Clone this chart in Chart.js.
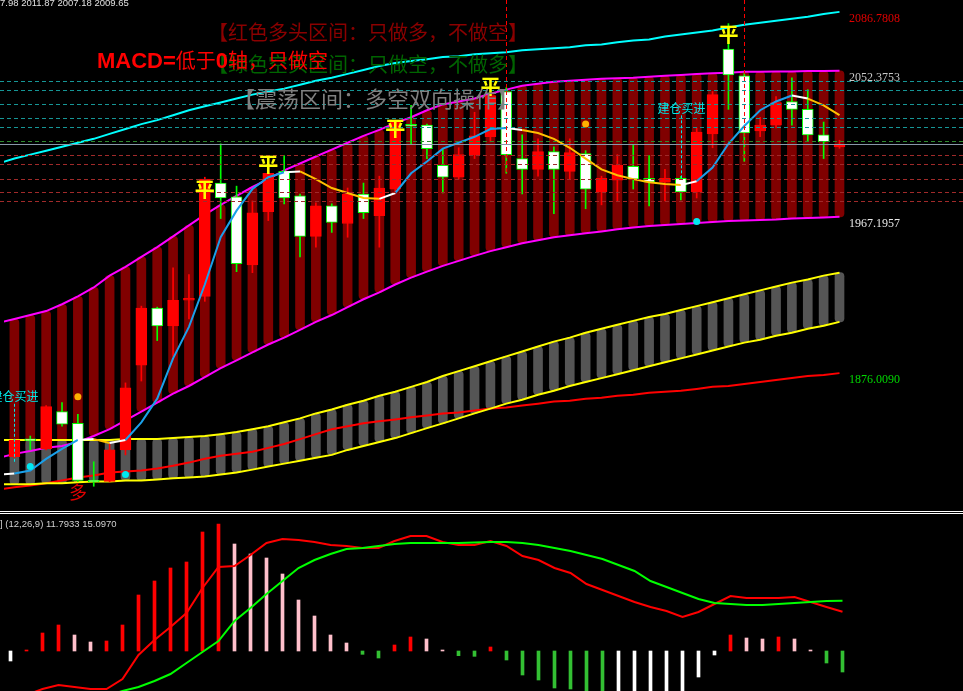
<!DOCTYPE html>
<html>
<head>
<meta charset="utf-8">
<script src="https://cdn.jsdelivr.net/npm/chart.js@4.4.1/dist/chart.umd.min.js"></script>
<style>
html, body { margin: 0; padding: 0; background: #000; overflow: hidden; }
#wrap { position: relative; width: 963px; height: 691px; background: #000; }
#priceChart { position: absolute; left: 0; top: 0; }
#macdChart { position: absolute; left: 0; top: 515px; }
.sep { position: absolute; left: 0; width: 963px; height: 1px; background: #fff; }
</style>
</head>
<body>
<div id="wrap">
  <canvas id="priceChart" width="963" height="510"></canvas>
  <div class="sep" style="top:511px"></div>
  <div class="sep" style="top:513px"></div>
  <canvas id="macdChart" width="963" height="176"></canvas>
</div>
<script>
// bar numbers, first one (-1) is only partly on screen
const bars = Array.from({ length: 54 }, (_, k) => k - 1);

// candles
const open = [null, 1827.2, 1837.6, 1831.8, 1853.6, 1846.7, 1813.6, 1812.8, 1831.2, 1880.6, 1913.9, 1903.6, 1918.5, 1920.8, 1986.9, 1978.8, 1939.2, 1970.2, 1993.7, 1979.4, 1955.8, 1973.6, 1963.3, 1980.5, 1967.9, 1983.4, 2021.2, 2020.7, 1997.2, 1990.3, 2003.5, 2013.9, 2040.3, 2001.2, 1994.9, 2005.2, 1993.7, 2004.1, 1981.7, 1988.6, 1996.6, 1989.7, 1987.4, 1989.7, 1981.7, 2015.6, 2065.0, 2049.5, 2017.3, 2020.7, 2034.5, 2029.9, 2015.0, 2007.98];
const high = [null, 1837.2, 1839.3, 1857.1, 1858.8, 1851.9, 1824.3, 1834.7, 1870.3, 1915.1, 1914.5, 1937.5, 1933.5, 1990.3, 2009.8, 1985.1, 1976.5, 1996.6, 2002.9, 1980.5, 1975.4, 1974.8, 1984.0, 1986.9, 1990.9, 2023.6, 2032.2, 2021.3, 2007.0, 2007.5, 2028.2, 2039.7, 2042.6, 2015.0, 2012.7, 2008.1, 2012.7, 2005.8, 1990.9, 2003.5, 2009.3, 2002.9, 1994.9, 1990.9, 2019.0, 2040.3, 2079.9, 2051.2, 2025.3, 2037.4, 2048.3, 2041.4, 2022.5, 2011.87];
const low = [null, 1826.6, 1831.2, 1831.2, 1845.0, 1812.8, 1810.0, 1812.5, 1828.3, 1871.4, 1895.0, 1885.8, 1907.6, 1917.9, 1966.2, 1935.2, 1934.6, 1965.0, 1974.8, 1943.8, 1949.5, 1958.1, 1955.3, 1966.2, 1949.5, 1980.5, 2009.8, 2001.2, 1981.1, 1989.2, 2001.2, 2011.0, 1992.6, 1980.5, 1990.9, 1969.1, 1989.2, 1971.9, 1974.2, 1976.5, 1983.4, 1973.6, 1976.5, 1977.1, 1978.2, 2007.5, 2029.9, 1999.5, 2013.9, 2019.0, 2020.7, 2011.6, 2001.2, 2007.18];
const close = [null, 1837.0, 1836.5, 1856.5, 1846.2, 1813.4, 1812.5, 1831.2, 1867.4, 1913.9, 1903.6, 1918.5, 1919.7, 1989.2, 1978.2, 1939.8, 1969.6, 1992.6, 1978.2, 1955.8, 1973.6, 1963.9, 1980.5, 1969.6, 1984.0, 2022.5, 2020.1, 2007.0, 1990.3, 2003.5, 2014.4, 2038.0, 2003.5, 1994.9, 2005.2, 1994.9, 2004.7, 1983.4, 1989.7, 1997.2, 1989.2, 1987.4, 1989.7, 1981.7, 2016.7, 2038.5, 2050.0, 2016.1, 2020.7, 2033.9, 2029.9, 2015.0, 2011.0, 2009.65];

// indicator lines on the price chart
const cyanLine = [1998.3, 2001.2, 2003.5, 2005.8, 2008.1, 2010.4, 2012.7, 2015.6, 2018.4, 2021.3, 2023.6, 2026.5, 2029.4, 2031.7, 2033.9, 2036.2, 2038.5, 2040.3, 2042.0, 2044.3, 2046.6, 2048.3, 2050.6, 2052.9, 2055.2, 2056.9, 2058.1, 2059.2, 2060.4, 2060.9, 2062.1, 2062.7, 2063.2, 2064.4, 2065.0, 2065.5, 2066.1, 2067.3, 2067.8, 2069.0, 2070.1, 2070.7, 2072.4, 2073.6, 2074.7, 2075.9, 2077.6, 2079.3, 2080.5, 2081.6, 2082.8, 2083.9, 2085.6, 2086.7808];
const bandUpper = [1905.3, 1907.6, 1909.9, 1912.2, 1916.2, 1920.8, 1926.0, 1932.9, 1938.0, 1943.8, 1949.5, 1955.8, 1962.2, 1968.5, 1974.2, 1979.4, 1984.6, 1989.2, 1994.3, 1998.3, 2002.4, 2006.4, 2010.4, 2014.4, 2017.9, 2021.9, 2025.3, 2029.4, 2032.8, 2034.5, 2036.2, 2039.1, 2041.4, 2043.7, 2044.9, 2046.0, 2046.6, 2047.2, 2047.7, 2048.0, 2048.3, 2048.9, 2049.5, 2050.0, 2050.6, 2050.9, 2051.2, 2051.8, 2051.8, 2052.0, 2052.0, 2052.3, 2052.3, 2052.3753];
const bandLower = [1826.6, 1828.9, 1830.6, 1832.4, 1833.5, 1835.8, 1839.3, 1843.3, 1848.4, 1853.6, 1858.8, 1864.0, 1868.5, 1873.7, 1878.9, 1883.5, 1888.1, 1892.7, 1896.7, 1901.3, 1905.9, 1909.9, 1914.5, 1919.1, 1923.1, 1927.7, 1931.7, 1935.2, 1938.6, 1941.5, 1944.4, 1947.2, 1949.5, 1951.8, 1953.5, 1955.3, 1956.4, 1957.6, 1958.7, 1959.9, 1961.0, 1961.9, 1962.4, 1963.0, 1963.6, 1964.2, 1964.7, 1965.0, 1965.3, 1965.6, 1966.2, 1966.5, 1966.8, 1967.1957];
const chanUpper = [1837.0, 1837.0, 1837.0, 1837.0, 1837.0, 1837.0, 1837.0, 1837.0, 1837.5, 1837.5, 1837.5, 1838.1, 1838.7, 1839.3, 1840.4, 1841.6, 1843.3, 1845.0, 1847.3, 1849.6, 1852.5, 1854.8, 1857.6, 1859.9, 1862.8, 1865.1, 1868.0, 1870.8, 1874.3, 1877.2, 1880.0, 1882.9, 1885.8, 1888.6, 1891.5, 1894.4, 1896.7, 1899.6, 1901.9, 1904.2, 1906.5, 1908.7, 1910.5, 1912.8, 1915.1, 1917.4, 1919.7, 1922.0, 1924.3, 1926.6, 1928.8, 1930.6, 1932.9, 1934.6];
const chanLower = [1811.1, 1811.1, 1811.1, 1811.7, 1811.7, 1812.3, 1812.8, 1812.8, 1813.4, 1813.4, 1814.0, 1814.6, 1815.1, 1815.7, 1816.9, 1818.0, 1819.7, 1821.5, 1823.2, 1824.9, 1826.6, 1828.3, 1831.2, 1833.5, 1835.8, 1838.1, 1841.0, 1843.9, 1846.7, 1849.6, 1852.5, 1855.3, 1858.2, 1860.5, 1863.4, 1865.7, 1868.5, 1870.8, 1873.1, 1875.4, 1877.7, 1880.0, 1882.3, 1884.6, 1886.9, 1889.2, 1891.5, 1893.8, 1895.5, 1897.8, 1899.6, 1901.9, 1903.6, 1905.9];
const slowLine = [1808.2, 1809.4, 1810.5, 1811.7, 1813.4, 1815.1, 1816.3, 1818.0, 1818.6, 1819.2, 1820.3, 1822.0, 1823.8, 1826.0, 1827.8, 1828.9, 1830.1, 1832.4, 1834.7, 1837.5, 1840.4, 1843.3, 1845.0, 1846.7, 1847.9, 1849.0, 1850.2, 1851.3, 1852.5, 1853.0, 1854.2, 1855.3, 1855.9, 1857.1, 1858.2, 1859.4, 1859.9, 1861.1, 1861.7, 1862.8, 1863.4, 1864.5, 1865.1, 1865.7, 1866.8, 1868.0, 1868.5, 1869.7, 1870.8, 1872.0, 1873.1, 1874.3, 1874.9, 1876.009];
const maLine = [1816.9, 1817.4, 1819.2, 1826.0, 1831.8, 1837.0, 1837.5, 1835.2, 1837.0, 1847.3, 1861.1, 1884.6, 1903.0, 1927.7, 1955.3, 1970.8, 1983.4, 1990.3, 1993.2, 1993.7, 1989.2, 1984.0, 1981.1, 1978.2, 1977.7, 1981.1, 1992.6, 1999.5, 2007.0, 2010.4, 2013.9, 2018.4, 2019.0, 2017.9, 2016.1, 2012.7, 2007.5, 2001.2, 1994.9, 1991.5, 1989.2, 1987.4, 1986.3, 1985.7, 1988.0, 1996.0, 2009.8, 2020.2, 2029.4, 2034.5, 2038.0, 2036.2, 2032.2, 2026.5];
// 1 up, 0 flat, -1 down (segment ending at that bar)
const maTrend = [0, 0, 1, 1, 1, 1, 0, -1, 0, 1, 1, 1, 1, 1, 1, 1, 1, 1, 1, 0, -1, -1, -1, -1, -1, 0, 1, 1, 1, 1, 1, 1, 1, 0, -1, -1, -1, -1, -1, -1, -1, -1, -1, -1, 0, 1, 1, 1, 1, 1, 1, 0, -1, -1];

// horizontal levels
const tealLevels = [2046.41, 2041.24, 2033.20, 2024.58, 2019.42];
const greenLevels = [2011.37];
const bidLevel = 2009.65;
const redLevels = [2003.33, 1998.17, 1989.55, 1981.51, 1976.34];

// signals
const flatIdx = [12, 16, 24, 30, 45];
const flatPrice = [1983.4, 1997.8, 2019.0, 2043.1, 2073.6];
const longIdx = [4];
const longPrice = [1806.5];
const buyIdx = [0, 42];
const buyTextPrice = [1862.2, 2030.5];
const buyLineEnd = [1823.2, 1989.7];
const cyanDotIdx = [1, 7, 43];
const cyanDotPrice = [1821.5, 1816.8, 1964.4];
const orangeDotIdx = [4, 36];
const orangeDotPrice = [1862.2, 2021.3];
const stopIdx = [31, 46];
const stopPrice = [1992.6, 1999.5];

// MACD (12,26,9)
const hist = [null, -3.0, 0.3, 5.4, 7.8, 4.8, 2.7, 3.0, 7.8, 16.8, 21.0, 24.9, 26.7, 35.7, 38.1, 32.1, 29.1, 27.9, 23.1, 15.3, 10.5, 4.8, 2.4, -1.0, -2.1, 1.8, 4.2, 3.6, 0.3, -1.4, -1.6, 1.2, -2.7, -7.2, -8.7, -11.1, -11.4, -13.2, -14.4, -14.1, -13.5, -12.9, -12.6, -12.3, -7.8, -1.2, 4.8, 3.9, 3.6, 4.2, 3.6, 0.3, -3.6, -6.3];
const dif = [-16.0, -14.7, -13.2, -11.4, -10.2, -10.8, -11.4, -11.4, -8.4, -1.2, 3.3, 7.2, 11.4, 18.9, 25.2, 25.5, 28.8, 32.4, 33.6, 33.3, 32.7, 31.8, 31.5, 30.9, 30.9, 33.0, 34.5, 34.5, 32.7, 31.8, 31.8, 33.0, 31.5, 28.5, 27.3, 24.9, 23.4, 20.1, 18.3, 16.5, 14.7, 13.2, 12.0, 10.2, 11.7, 14.1, 16.5, 15.9, 15.9, 15.9, 16.2, 14.7, 13.2, 11.7933];
const dea = [-20.0, -19.2, -18.3, -17.4, -16.5, -15.6, -14.7, -13.5, -12.0, -10.8, -9.0, -6.9, -3.6, -0.3, 3.0, 9.0, 12.9, 17.1, 21.0, 24.9, 27.3, 29.1, 30.6, 30.9, 31.5, 32.1, 32.4, 32.4, 32.4, 32.4, 32.55, 32.7, 32.7, 32.4, 31.8, 30.9, 30.0, 28.8, 27.6, 25.8, 24.0, 21.0, 19.2, 17.4, 15.6, 14.4, 14.1, 13.8, 13.8, 14.1, 14.4, 14.7, 15.0, 15.097];

const CJK = "'Noto Sans CJK SC'";
const X_MIN = -10.5 / 16, X_MAX = (963 - 10.5) / 16;

// helpers
const xy = arr => arr.map((v, k) => ({ x: bars[k], y: v }));
const pick = (idx, vals) => idx.map((i, n) => ({ x: i, y: vals[n] }));
const candleK = bars.map((_, k) => k).filter(k => open[k] !== null);
const isUp = candleK.map(k => close[k] >= open[k]);
const band = (a, b) => bars.map((x, k) => ({ x, y: [a[k], b[k]] }));

function lineDs(data, color, order) {
    return { type: 'line', data: xy(data), borderColor: color, borderWidth: 2, pointRadius: 0, tension: 0, fill: false, order: order };
}

const maColors = { '1': '#1aa0ea', '0': '#ffffff', '-1': '#ffc000' };

// overlay: levels, signal marks and texts
const overlay = {
    id: 'overlay',
    afterDatasetsDraw(chart) {
        const { ctx, scales: { x, y } } = chart;
        const W = chart.width;
        ctx.save();

        function hline(v, color, dash) {
            const py = Math.round(y.getPixelForValue(v)) + 0.5;
            ctx.strokeStyle = color;
            ctx.lineWidth = 1;
            ctx.setLineDash(dash);
            ctx.beginPath(); ctx.moveTo(0, py); ctx.lineTo(W, py); ctx.stroke();
        }
        tealLevels.forEach(v => hline(v, '#169696', [4, 3]));
        greenLevels.forEach(v => hline(v, '#2f8a2f', [4, 3]));
        redLevels.forEach(v => hline(v, '#a02a2a', [4, 3]));
        hline(bidLevel, '#8898a8', []);

        // red dashed verticals
        ctx.strokeStyle = '#ff0000';
        ctx.setLineDash([4, 3]);
        stopIdx.forEach((i, n) => {
            const px = Math.round(x.getPixelForValue(i)) + 0.5;
            ctx.beginPath(); ctx.moveTo(px, 0); ctx.lineTo(px, y.getPixelForValue(stopPrice[n])); ctx.stroke();
        });

        // buy labels
        ctx.font = '12px ' + CJK;
        ctx.textAlign = 'center';
        ctx.textBaseline = 'middle';
        buyIdx.forEach((i, n) => {
            const px = Math.round(x.getPixelForValue(i)) + 0.5;
            const ty = y.getPixelForValue(buyTextPrice[n]);
            ctx.fillStyle = '#00e8e8';
            ctx.fillText('建仓买进', px, ty);
            ctx.strokeStyle = '#00e8e8';
            ctx.setLineDash([3, 2]);
            ctx.beginPath(); ctx.moveTo(px, ty + 7); ctx.lineTo(px, y.getPixelForValue(buyLineEnd[n])); ctx.stroke();
        });
        ctx.setLineDash([]);

        // 平 marks
        ctx.font = 'bold 20px ' + CJK;
        ctx.fillStyle = '#ffff00';
        flatIdx.forEach((i, n) => ctx.fillText('平', x.getPixelForValue(i), y.getPixelForValue(flatPrice[n])));
        // 多 marks
        ctx.font = '18px ' + CJK;
        ctx.fillStyle = '#e00000';
        longIdx.forEach((i, n) => ctx.fillText('多', x.getPixelForValue(i), y.getPixelForValue(longPrice[n])));

        // right side value labels
        ctx.textAlign = 'left';
        ctx.font = '12px "Liberation Serif"';
        [[cyanLine, '#e00000'], [bandUpper, '#c8c8c8'], [bandLower, '#e8e8e8'], [slowLine, '#00d800']].forEach(([arr, c]) => {
            const v = arr[arr.length - 1];
            ctx.fillStyle = c;
            ctx.fillText(v.toFixed(4), 849, y.getPixelForValue(v) + 7);
        });

        // titles
        ctx.font = '20px ' + CJK;
        ctx.fillStyle = '#8b0000';
        ctx.fillText('【红色多头区间：只做多，不做空】', 208, 32);
        ctx.fillStyle = '#006400';
        ctx.fillText('【绿色空头区间：只做空，不做多】', 208, 64);
        ctx.font = '22px ' + CJK;
        ctx.fillStyle = '#808080';
        ctx.fillText('【震荡区间：多空双向操作】', 233, 99);

        // MACD note
        ctx.textBaseline = 'alphabetic';
        ctx.fillStyle = '#ff0000';
        let cx = 97;
        [['MACD=', 'bold 22px "Liberation Sans"'], ['低于', '20px ' + CJK], ['0', 'bold 22px "Liberation Sans"'], ['轴，只做空', '20px ' + CJK]].forEach(([t, f]) => {
            ctx.font = f;
            ctx.fillText(t, cx, 68);
            cx += ctx.measureText(t).width;
        });

        // OHLC caption
        const last = open.length - 1;
        const cap = [open[last], high[last], low[last], close[last]].map(v => v.toFixed(2)).join(' ');
        ctx.font = '9.5px "Liberation Sans"';
        ctx.fillStyle = '#e0e0e0';
        ctx.fillText(cap, -ctx.measureText('200').width, 6);
        ctx.restore();
    }
};

new Chart(document.getElementById('priceChart'), {
    type: 'bar',
    data: {
        datasets: [
            { data: band(bandLower, bandUpper).slice(1), backgroundColor: '#800000', barThickness: 9, borderRadius: 4, borderSkipped: false, grouped: false, order: 20 },
            { data: band(chanLower, chanUpper).slice(1), backgroundColor: '#555555', barThickness: 9, borderRadius: 4, borderSkipped: false, grouped: false, order: 19 },
            lineDs(cyanLine, '#00ffff', 15),
            lineDs(bandUpper, '#ff00ff', 15),
            lineDs(bandLower, '#ff00ff', 15),
            lineDs(chanUpper, '#ffff00', 14),
            lineDs(chanLower, '#ffff00', 14),
            lineDs(slowLine, '#ff0000', 14),
            {
                data: candleK.map(k => ({ x: bars[k], y: [low[k], high[k]] })),
                backgroundColor: isUp.map(u => u ? '#ff0000' : '#00ff00'),
                barThickness: 1, grouped: false, order: 6
            },
            {
                data: candleK.map(k => ({ x: bars[k], y: [open[k], close[k]] })),
                backgroundColor: isUp.map(u => u ? '#ff0000' : '#ffffff'),
                borderColor: isUp.map(u => u ? '#ff0000' : '#00ff00'),
                borderWidth: 1, borderSkipped: false, barThickness: 11, grouped: false, order: 5
            },
            {
                type: 'line', data: xy(maLine), borderWidth: 2, pointRadius: 0, tension: 0, fill: false, order: 4,
                borderColor: '#1aa0ea',
                segment: { borderColor: c => maColors[String(maTrend[c.p1DataIndex])] }
            },
            { type: 'line', data: pick(cyanDotIdx, cyanDotPrice), showLine: false, pointRadius: 3.5, pointBackgroundColor: '#00e8f0', pointBorderWidth: 0, order: 2 },
            { type: 'line', data: pick(orangeDotIdx, orangeDotPrice), showLine: false, pointRadius: 3.5, pointBackgroundColor: '#ffb000', pointBorderWidth: 0, order: 2 }
        ]
    },
    options: {
        responsive: false, animation: false, events: [],
        layout: { padding: 0 },
        scales: {
            x: { type: 'linear', display: false, min: X_MIN, max: X_MAX, offset: false },
            y: { type: 'linear', display: false, min: 1798.48, max: 2091.374 }
        },
        plugins: { legend: { display: false }, tooltip: { enabled: false } }
    },
    plugins: [overlay]
});

// histogram colours: rising/falling above and below zero
const histColor = hist.map((v, k) => {
    if (v === null) return null;
    const prev = k > 0 ? hist[k - 1] : null;
    const rising = prev === null || v >= prev;
    if (v >= 0) return rising ? '#ff0000' : '#ffc0cb';
    return rising ? '#ffffff' : '#33c033';
});
const histK = bars.map((_, k) => k).filter(k => hist[k] !== null);

const macdText = {
    id: 'macdText',
    afterDatasetsDraw(chart) {
        const ctx = chart.ctx;
        ctx.save();
        ctx.font = '9.5px "Liberation Sans"';
        ctx.fillStyle = '#d0d0d0';
        ctx.fillText('] (12,26,9) ' + dif[dif.length - 1].toFixed(4) + ' ' + dea[dea.length - 1].toFixed(4), 0, 12);
        ctx.restore();
    }
};

new Chart(document.getElementById('macdChart'), {
    type: 'bar',
    data: {
        datasets: [
            {
                data: histK.map(k => ({ x: bars[k], y: hist[k] })),
                backgroundColor: histK.map(k => histColor[k]),
                barThickness: 3, grouped: false, order: 5
            },
            lineDs(dif, '#ff0000', 2),
            lineDs(dea, '#00ff00', 1)
        ]
    },
    options: {
        responsive: false, animation: false, events: [],
        layout: { padding: 0 },
        scales: {
            x: { type: 'linear', display: false, min: X_MIN, max: X_MAX, offset: false },
            y: { type: 'linear', display: false, min: -12.0, max: 40.8 }
        },
        plugins: { legend: { display: false }, tooltip: { enabled: false } }
    },
    plugins: [macdText]
});
</script>
</body>
</html>
